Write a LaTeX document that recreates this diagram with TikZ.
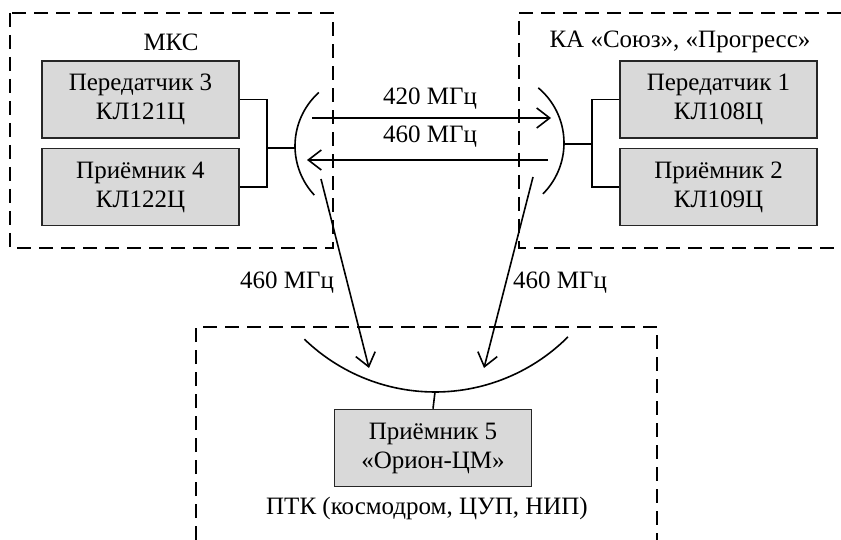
\documentclass[tikz,border=0pt]{standalone}
\usepackage{fontspec}
\setmainfont{Liberation Serif}
\usepackage{xcolor}
\usetikzlibrary{positioning, arrows.meta, calc}

\begin{document}
\begin{tikzpicture}[
  x=1pt, y=-1pt,
  every node/.style={font=\fontsize{25}{29}\selectfont},
  ln/.style={line width=1.6pt, black},
  arr/.style={ln, -{Straight Barb[length=13pt, width=20pt, line width=1.6pt]}},
  zone/.style={line width=1.6pt, dash pattern=on 14pt off 8pt},
  devbox/.style={draw=black!85, line width=1.6pt, fill=black!15,
                 minimum width=197pt, minimum height=77pt, align=center, inner sep=0pt}
]
\useasboundingbox (0,0) rectangle (841,540);

% ---- Dashed zones ----
\draw[zone] (10,13) rectangle (333,248);
\draw[zone] (841,13) -- (519,13) -- (519,248) -- (841,248);
\draw[zone] (196,540) -- (196,327) -- (657,327) -- (657,540);

% ---- Zone titles ----
\node (mks) at (171, 42) {МКС};
\node (ka)  at (680, 42) {КА «Союз», «Прогресс»};
\node (ptk) at (427, 508) {ПТК (космодром, ЦУП, НИП)};

% ---- Devices ----
\node[devbox] (tx3) at (140.5, 99.5) {Передатчик 3\\КЛ121Ц};
\node[devbox] (rx4) at (140.5, 187)  {Приёмник 4\\КЛ122Ц};
\node[devbox] (tx1) at (718.5, 99.5) {Передатчик 1\\КЛ108Ц};
\node[devbox] (rx2) at (718.5, 187)  {Приёмник 2\\КЛ109Ц};
\node[devbox] (rx5) at (433, 448)    {Приёмник 5\\«Орион-ЦМ»};

% ---- Antennas ----
\draw[ln] plot[domain=137:228, samples=40] ({367+72*cos(\x)}, {146+72*sin(\x)});
\draw[ln] plot[domain=-50:45, samples=40]  ({492+72*cos(\x)}, {143+72*sin(\x)});
\draw[ln] plot[domain=45:134, samples=60]  ({435+188*cos(\x)}, {204+188*sin(\x)});

\coordinate (antL) at (295, 148);
\coordinate (antR) at (564, 144);
\coordinate (antB) at (435, 392);
\coordinate (brL)  at (267, 148);
\coordinate (brR)  at (592, 144);

% ---- Feeders ----
\draw[ln] (tx3.east) -| (brL) |- (rx4.east);
\draw[ln] (brL) -- (antL);
\draw[ln] (tx1.west) -| (brR) |- (rx2.west);
\draw[ln] (brR) -- (antR);
\draw[ln] (antB) -- (rx5.north);

% ---- Radio links ----
\coordinate (s420) at (312, 118);  \coordinate (e420) at (551, 118);
\coordinate (s460) at (548, 160);  \coordinate (e460) at (307, 160);
\coordinate (sdl)  at (321, 179);  \coordinate (edl)  at (369, 368);
\coordinate (sdr)  at (533, 177);  \coordinate (edr)  at (484, 368);

\foreach \a/\b in {s420/e420, s460/e460, sdl/edl, sdr/edr}
  \draw[arr] (\a) -- (\b);

\node (f420)  at (430, 99)  {420 МГц};
\node (f460)  at (430, 137) {460 МГц};
\node (f460l) at (287, 283) {460 МГц};
\node (f460r) at (560, 283) {460 МГц};

\end{tikzpicture}
\end{document}
